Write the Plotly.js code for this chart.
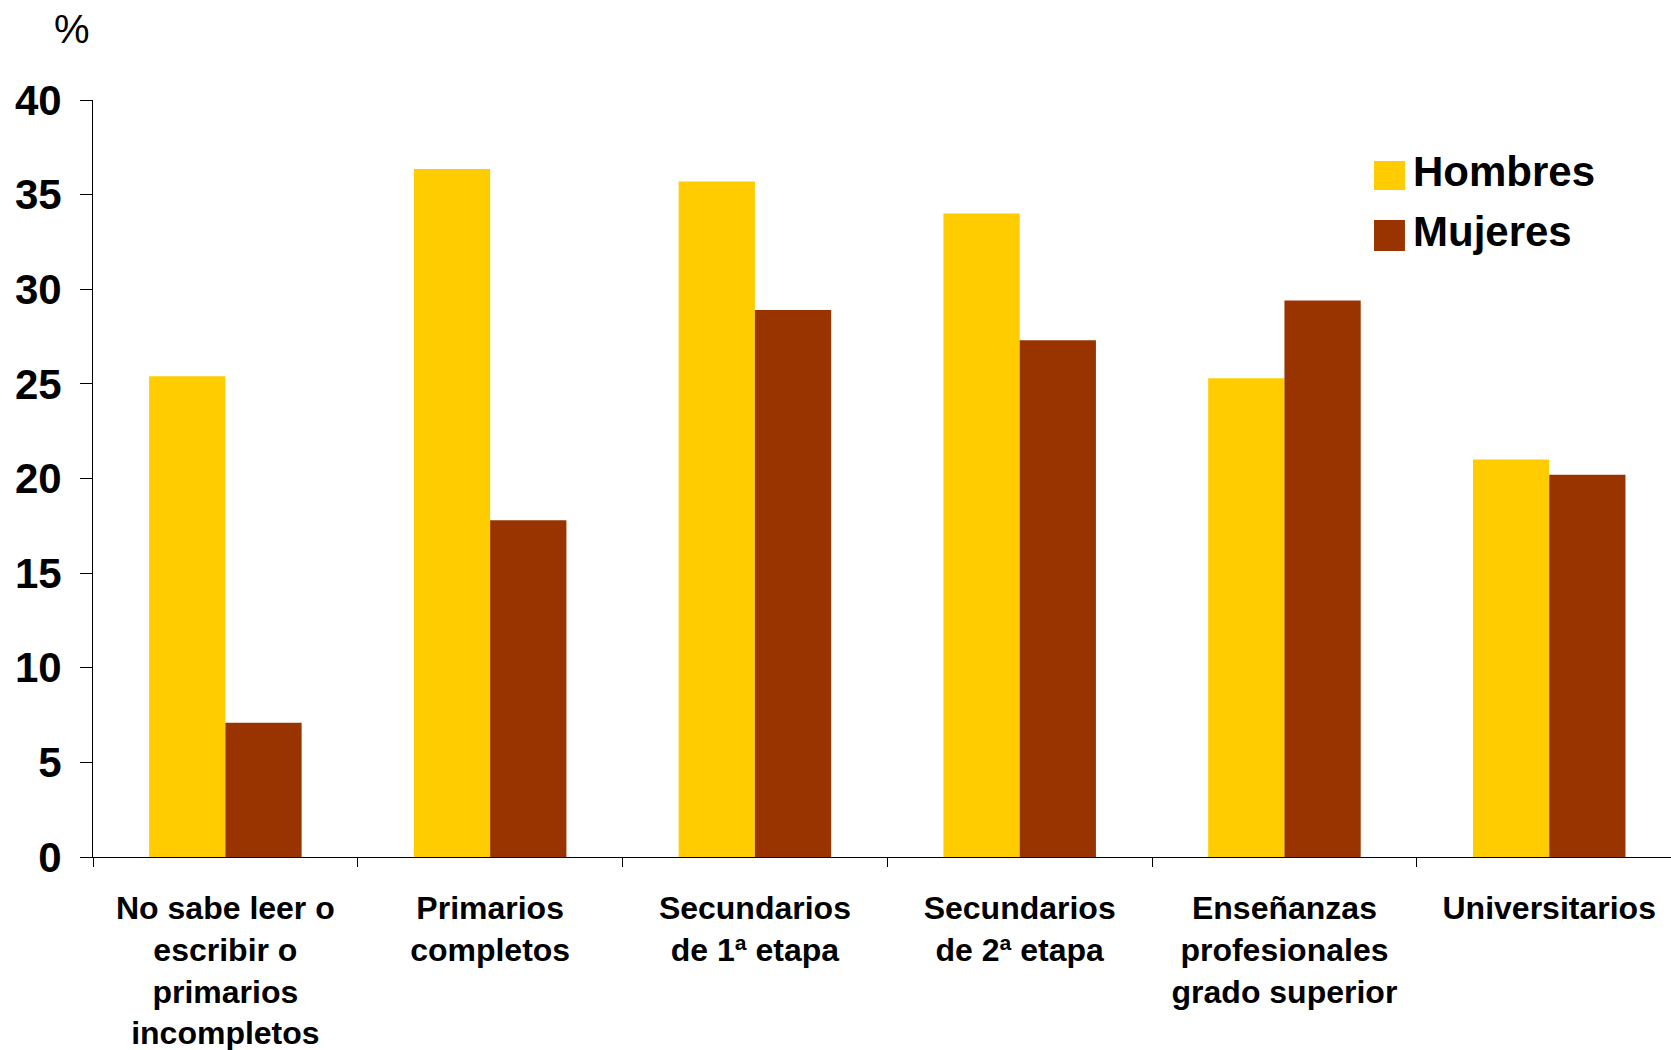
<!DOCTYPE html>
<html>
<head>
<meta charset="utf-8">
<script src="https://cdn.plot.ly/plotly-3.0.1.min.js"></script>
<style>
html,body{margin:0;padding:0;background:#fff;}
#chart{width:1671px;height:1050px;}
</style>
</head>
<body>
<div id="chart"></div>
<script>
const categories = [
  "No sabe leer o<br>escribir o<br>primarios<br>incompletos",
  "Primarios<br>completos",
  "Secundarios<br>de 1ª etapa",
  "Secundarios<br>de 2ª etapa",
  "Enseñanzas<br>profesionales<br>grado superior",
  "Universitarios"
];
const seriesNames = ["Hombres", "Mujeres"];
const hombres = [25.4, 36.35, 35.7, 34.0, 25.3, 21.0];
const mujeres = [7.1, 17.8, 28.9, 27.3, 29.4, 20.2];
const colors = ["#FFCC00", "#993300"];
const unitLabel = "%";

const FONT = "Liberation Sans, Arial, sans-serif";

const traces = [
  {type: "bar", name: seriesNames[0], x: categories, y: hombres, marker: {color: colors[0]}, showlegend: false},
  {type: "bar", name: seriesNames[1], x: categories, y: mujeres, marker: {color: colors[1]}, showlegend: false}
];

// custom legend (large squares)
const legSquares = [[0.9194, 0.8811], [0.8415, 0.8005]];
const legTextY = [0.9049, 0.8257];
const shapes = seriesNames.map((n, i) => ({
  type: "rect", xref: "paper", yref: "paper",
  x0: 0.8118, x1: 0.8314, y0: legSquares[i][1], y1: legSquares[i][0],
  fillcolor: colors[i], line: {width: 0}
}));
const annotations = seriesNames.map((n, i) => ({
  xref: "paper", yref: "paper", x: 0.8352, y: legTextY[i],
  xanchor: "left", yanchor: "middle", text: n, showarrow: false,
  font: {family: FONT, size: 42, color: "#000", weight: "bold"}
}));
annotations.push({
  xref: "paper", yref: "paper", x: -0.0133, y: 1.0938,
  xanchor: "center", yanchor: "middle", text: unitLabel, showarrow: false,
  font: {family: FONT, size: 40, color: "#000"}
});

const layout = {
  width: 1671, height: 1050,
  margin: {l: 93, r: 0, t: 100, b: 193},
  paper_bgcolor: "#fff", plot_bgcolor: "#fff",
  barmode: "group", bargap: 0.424, bargroupgap: 0,
  showlegend: false,
  xaxis: {
    type: "category",
    range: [-0.5, 5.46],
    showline: true, linecolor: "#000", linewidth: 1,
    ticks: "outside", tickson: "boundaries", ticklen: 9, tickcolor: "#000", tickwidth: 1,
    showgrid: false, zeroline: false,
    tickfont: {family: FONT, size: 32, color: "#000", weight: "bold"},
    tickangle: 0,
    ticklabelstandoff: 23
  },
  yaxis: {
    range: [0, 40], dtick: 5, tick0: 0,
    showline: true, linecolor: "#000", linewidth: 1,
    ticks: "outside", ticklen: 12, tickcolor: "#000", tickwidth: 1,
    showgrid: false, zeroline: false,
    tickfont: {family: FONT, size: 42, color: "#000", weight: "bold"},
    ticklabelstandoff: 10
  },
  shapes: shapes,
  annotations: annotations
};

Plotly.newPlot("chart", traces, layout, {staticPlot: true, displayModeBar: false});
</script>
</body>
</html>
